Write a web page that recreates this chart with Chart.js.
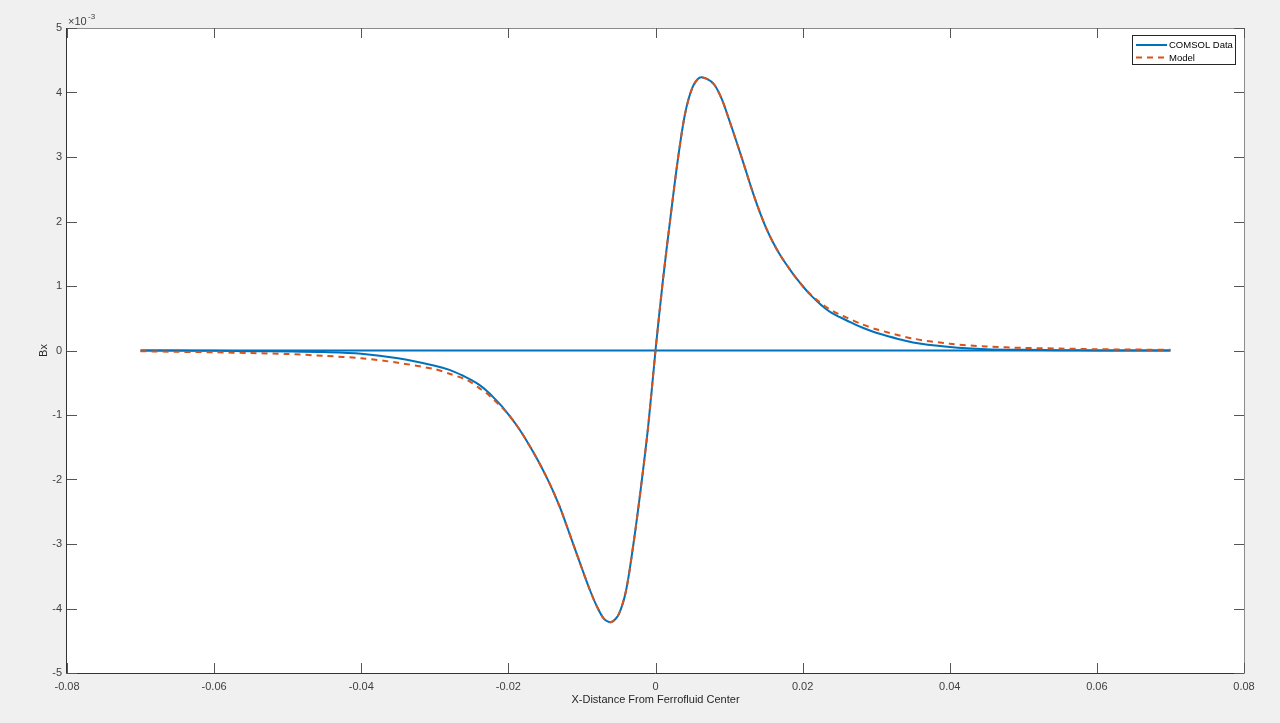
<!DOCTYPE html>
<html>
<head>
<meta charset="utf-8">
<script src="https://cdn.jsdelivr.net/npm/chart.js@4.4.1/dist/chart.umd.min.js"></script>
<style>
  body { margin: 0; background: #f0f0f0; }
  canvas { display: block; }
</style>
</head>
<body>
<canvas id="bxChart" width="1280" height="723"></canvas>
<script>
// x positions (m) and Bx values (x 10^-3 T)
var xDist = [-0.070, -0.065, -0.060, -0.055, -0.050, -0.045, -0.040, -0.035, -0.030, -0.028, -0.026,
             -0.025, -0.024, -0.023, -0.022, -0.021, -0.020, -0.019, -0.018, -0.017, -0.016,
             -0.015, -0.014, -0.013, -0.012, -0.011, -0.010, -0.009, -0.008, -0.007, -0.006,
             -0.005, -0.004, -0.003, -0.002, -0.001, 0,
             0.001, 0.002, 0.003, 0.004, 0.005, 0.006, 0.007, 0.008, 0.009, 0.010,
             0.011, 0.012, 0.013, 0.014, 0.015, 0.016, 0.017, 0.018, 0.019, 0.020,
             0.021, 0.022, 0.023, 0.024, 0.025,
             0.026, 0.028, 0.030, 0.035, 0.040, 0.045, 0.050, 0.055, 0.060, 0.065, 0.070];

var bxComsol = [0, 0, -0.005, -0.01, -0.015, -0.025, -0.05, -0.12, -0.235, -0.30, -0.40,
                -0.46, -0.53, -0.62, -0.73, -0.85, -0.99, -1.14, -1.31, -1.50, -1.70,
                -1.92, -2.16, -2.43, -2.74, -3.06, -3.38, -3.69, -3.96, -4.16, -4.21,
                -4.09, -3.72, -3.00, -2.14, -1.18, 0,
                1.08, 2.03, 2.93, 3.66, 4.07, 4.23, 4.21, 4.12, 3.90, 3.58,
                3.24, 2.89, 2.53, 2.20, 1.91, 1.67, 1.47, 1.30, 1.14, 1.00,
                0.87, 0.76, 0.66, 0.58, 0.52,
                0.465, 0.36, 0.275, 0.125, 0.055, 0.02, 0.01, 0.005, 0, 0, 0];

var bxModel = [-0.012, -0.02, -0.028, -0.04, -0.055, -0.083, -0.12, -0.19, -0.29, -0.36, -0.44,
               -0.50, -0.58, -0.66, -0.76, -0.87, -0.99, -1.14, -1.31, -1.50, -1.70,
               -1.92, -2.16, -2.43, -2.74, -3.06, -3.38, -3.69, -3.96, -4.16, -4.21,
               -4.09, -3.72, -3.00, -2.14, -1.18, 0,
               1.08, 2.03, 2.93, 3.66, 4.07, 4.23, 4.21, 4.12, 3.90, 3.58,
               3.24, 2.89, 2.53, 2.20, 1.91, 1.67, 1.47, 1.30, 1.14, 1.00,
               0.88, 0.78, 0.69, 0.62, 0.56,
               0.51, 0.41, 0.33, 0.185, 0.105, 0.062, 0.04, 0.03, 0.02, 0.015, 0.01];

// COMSOL line also returns along the axis
var baseX = [-0.070, 0.070];
var baseY = [0, 0];

var xTicks = { min: -0.08, max: 0.08, step: 0.02 };
var yTicks = { min: -5, max: 5, step: 1 };

var blue = '#0072BD';
var orange = '#D95319';
var axisColor = '#333333';

function toPoints(xs, ys) {
    return xs.map(function (x, i) { return { x: x, y: ys[i] }; });
}

var matlabAxes = {
    id: 'matlabAxes',
    beforeDraw: function (chart) {
        var a = chart.chartArea, c = chart.ctx;
        c.save();
        c.fillStyle = '#ffffff';
        c.fillRect(a.left, a.top, a.right - a.left, a.bottom - a.top);
        c.restore();
    },
    afterDraw: function (chart) {
        var a = chart.chartArea, c = chart.ctx;
        var xs = chart.scales.x, ys = chart.scales.y;
        var tl = 10;
        c.save();
        // box
        c.lineWidth = 1;
        c.strokeStyle = '#8c8c8c';
        c.beginPath();
        c.moveTo(a.left, a.top + 0.5); c.lineTo(a.right + 0.5, a.top + 0.5);
        c.lineTo(a.right + 0.5, a.bottom);
        c.stroke();
        c.strokeStyle = axisColor;
        c.beginPath();
        c.moveTo(a.left - 0.5, a.top); c.lineTo(a.left - 0.5, a.bottom + 0.5);
        c.lineTo(a.right + 0.5, a.bottom + 0.5);
        c.stroke();
        // inward ticks
        c.strokeStyle = '#555555';
        c.beginPath();
        xs.ticks.forEach(function (t) {
            var px = Math.round(xs.getPixelForValue(t.value)) + 0.5;
            c.moveTo(px, a.bottom); c.lineTo(px, a.bottom - tl);
            c.moveTo(px, a.top); c.lineTo(px, a.top + tl);
        });
        ys.ticks.forEach(function (t) {
            var py = Math.round(ys.getPixelForValue(t.value)) + 0.5;
            c.moveTo(a.left, py); c.lineTo(a.left + tl, py);
            c.moveTo(a.right, py); c.lineTo(a.right - tl, py);
        });
        c.stroke();
        // exponent label
        c.fillStyle = '#404040';
        c.textBaseline = 'alphabetic';
        c.font = '11px "Liberation Sans", Arial, sans-serif';
        c.fillText('\u00d710', a.left + 1, a.top - 3);
        c.font = '8px "Liberation Sans", Arial, sans-serif';
        c.fillText('-3', a.left + 21, a.top - 9);
        // legend
        var lx = 1132, ly = 35, lw = 103, lh = 29;
        c.fillStyle = '#ffffff';
        c.fillRect(lx, ly, lw, lh);
        c.strokeStyle = '#262626';
        c.lineWidth = 1;
        c.strokeRect(lx + 0.5, ly + 0.5, lw, lh);
        var items = chart.data.datasets.filter(function (d) { return d.label; });
        items.forEach(function (d, i) {
            var y = ly + 10 + i * 12.5;
            c.strokeStyle = d.borderColor;
            c.lineWidth = 2;
            c.setLineDash(d.borderDash || []);
            c.beginPath();
            c.moveTo(lx + 4, y); c.lineTo(lx + 35, y);
            c.stroke();
            c.setLineDash([]);
            c.fillStyle = '#000000';
            c.font = '9.5px "Liberation Sans", Arial, sans-serif';
            c.textBaseline = 'middle';
            c.fillText(d.label, lx + 37, y + 0.5);
        });
        c.restore();
    }
};

var ctx = document.getElementById('bxChart').getContext('2d');
var bxChart = new Chart(ctx, {
    type: 'scatter',
    data: {
        datasets: [{
            label: 'COMSOL Data',
            data: toPoints(xDist, bxComsol),
            showLine: true,
            borderColor: blue,
            borderWidth: 2,
            pointRadius: 0,
            tension: 0.3,
            order: 2
        }, {
            label: 'Model',
            data: toPoints(xDist, bxModel),
            showLine: true,
            borderColor: orange,
            borderWidth: 2,
            borderDash: [6, 5],
            pointRadius: 0,
            tension: 0.3,
            order: 1
        }, {
            label: '',
            data: toPoints(baseX, baseY),
            showLine: true,
            borderColor: blue,
            borderWidth: 2,
            pointRadius: 0,
            order: 3
        }]
    },
    options: {
        responsive: false,
        animation: false,
        devicePixelRatio: 1,
        layout: { padding: { left: 0, top: 28, right: 36, bottom: 0 } },
        plugins: {
            legend: { display: false },
            tooltip: { enabled: false }
        },
        scales: {
            x: {
                type: 'linear',
                min: xTicks.min,
                max: xTicks.max,
                afterFit: function (s) { s.height = 50; },
                grid: { display: false, drawTicks: false },
                border: { display: false },
                ticks: {
                    stepSize: xTicks.step,
                    padding: 7,
                    color: '#404040',
                    font: { family: '"Liberation Sans", Arial, sans-serif', size: 11 },
                    maxRotation: 0,
                    autoSkip: false,
                    callback: function (v) {
                        var r = Math.round(v * 100) / 100;
                        return r === 0 ? '0' : String(r);
                    }
                },
                title: {
                    display: true,
                    text: 'X-Distance From Ferrofluid Center',
                    color: '#262626',
                    font: { family: '"Liberation Sans", Arial, sans-serif', size: 11 },
                    padding: { top: 0, bottom: 16 }
                }
            },
            y: {
                type: 'linear',
                min: yTicks.min,
                max: yTicks.max,
                afterFit: function (s) { s.width = 67; },
                grid: { display: false, drawTicks: false },
                border: { display: false },
                ticks: {
                    stepSize: yTicks.step,
                    padding: 5,
                    color: '#404040',
                    font: { family: '"Liberation Sans", Arial, sans-serif', size: 11 },
                    autoSkip: false,
                    callback: function (v) { return String(Math.round(v)); }
                },
                title: {
                    display: true,
                    text: 'Bx',
                    color: '#262626',
                    font: { family: '"Liberation Sans", Arial, sans-serif', size: 11 },
                    padding: { top: 37, bottom: 0 }
                }
            }
        }
    },
    plugins: [matlabAxes]
});
</script>
</body>
</html>
